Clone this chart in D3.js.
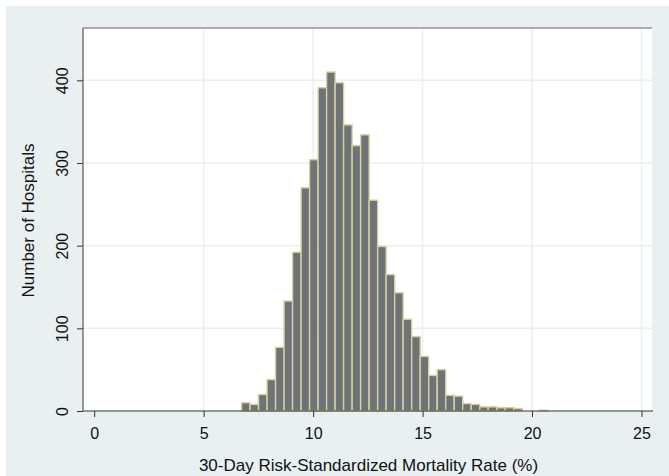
<!DOCTYPE html>
<html>
<head>
<meta charset="utf-8">
<script src="https://cdn.jsdelivr.net/npm/d3@7"></script>
<style>
  body { margin: 0; background: #ffffff; }
  svg text { font-family: "Liberation Sans", Arial, sans-serif; fill: #111; }
</style>
</head>
<body>
<div id="chart"></div>
<script>
// Histogram of 30-day risk-standardized mortality rates

// bins: first left edge and width (percent), 36 bins
const binStart = 6.73;
const binWidth = 0.3886;
const counts = [10, 8, 20, 38, 77, 133, 192, 270, 304, 391, 410, 397, 346, 321, 334, 255, 199, 165,
  143, 111, 90, 66, 43, 50, 19, 18, 9, 8, 5, 5, 4, 4, 3, 0, 0, 1];

const xTicks = [0, 5, 10, 15, 20, 25];
const yTicks = [0, 100, 200, 300, 400];

const xTitle = "30-Day Risk-Standardized Mortality Rate (%)";
const yTitle = "Number of Hospitals";

const width = 669;
const height = 476;

// plot region in pixels
const plot = { left: 83, right: 652, top: 28, bottom: 411 };

const x = d3.scaleLinear().domain([0, 25]).range([94.2, 641.5]);
const y = d3.scaleLinear().domain([0, 400]).range([411, 80.3]);

const svg = d3.select("#chart")
  .append("svg")
  .attr("width", width)
  .attr("height", height);

// outer graph background
svg.append("rect")
  .attr("x", 6)
  .attr("y", 6)
  .attr("width", width - 6)
  .attr("height", height - 6)
  .attr("fill", "#e8f0f2");

// plot region
svg.append("rect")
  .attr("x", plot.left)
  .attr("y", plot.top)
  .attr("width", plot.right - plot.left)
  .attr("height", plot.bottom - plot.top)
  .attr("fill", "#ffffff");

// grid lines (none at the axes)
svg.append("g")
  .selectAll("line")
  .data(yTicks.filter(d => d > 0))
  .enter()
  .append("line")
  .attr("x1", plot.left)
  .attr("x2", plot.right)
  .attr("y1", d => y(d))
  .attr("y2", d => y(d))
  .attr("stroke", "#e8f0f2")
  .attr("stroke-width", 1.5);

svg.append("g")
  .selectAll("line")
  .data(xTicks.filter(d => d > 0))
  .enter()
  .append("line")
  .attr("x1", d => x(d))
  .attr("x2", d => x(d))
  .attr("y1", plot.top)
  .attr("y2", plot.bottom)
  .attr("stroke", "#e8f0f2")
  .attr("stroke-width", 1.5);

// bars
svg.append("g")
  .selectAll("rect")
  .data(counts)
  .enter()
  .append("rect")
  .attr("display", d => d > 0 ? null : "none")
  .attr("x", (d, i) => x(binStart + i * binWidth))
  .attr("width", (d, i) => x(binStart + (i + 1) * binWidth) - x(binStart + i * binWidth))
  .attr("y", d => y(d))
  .attr("height", d => y(0) - y(d))
  .attr("fill", "#6d7377")
  .attr("stroke", "#d8d19e")
  .attr("stroke-width", 1.4);

// axes
const xAxis = svg.append("g")
  .attr("transform", "translate(0," + plot.bottom + ")")
  .call(d3.axisBottom(x).tickValues(xTicks).tickSize(6).tickSizeOuter(0));

xAxis.select(".domain").remove();
xAxis.selectAll(".tick line").attr("stroke", "#333");
xAxis.selectAll("text")
  .attr("y", 28)
  .attr("dy", 0)
  .style("font-size", "16px");

const yAxis = svg.append("g")
  .attr("transform", "translate(" + plot.left + ",0)")
  .call(d3.axisLeft(y).tickValues(yTicks).tickSize(6).tickSizeOuter(0));

yAxis.select(".domain").remove();
yAxis.selectAll(".tick line").attr("stroke", "#333");
yAxis.selectAll("text")
  .attr("transform", "rotate(-90)")
  .attr("x", 0)
  .attr("y", -15)
  .attr("dy", 0)
  .attr("text-anchor", "middle")
  .style("font-size", "16px");

// axis lines and top border
svg.append("line")
  .attr("x1", plot.left).attr("x2", plot.right + 1)
  .attr("y1", plot.bottom).attr("y2", plot.bottom)
  .attr("stroke", "#333").attr("stroke-width", 1.2);

svg.append("line")
  .attr("x1", plot.left).attr("x2", plot.left)
  .attr("y1", plot.top).attr("y2", plot.bottom)
  .attr("stroke", "#555").attr("stroke-width", 1.2);

svg.append("line")
  .attr("x1", plot.left).attr("x2", plot.right)
  .attr("y1", plot.top).attr("y2", plot.top)
  .attr("stroke", "#666").attr("stroke-width", 1.2);

// titles
svg.append("text")
  .attr("x", (plot.left + plot.right) / 2 + 1)
  .attr("y", 471)
  .attr("text-anchor", "middle")
  .style("font-size", "17px")
  .text(xTitle);

svg.append("text")
  .attr("transform", "translate(34," + ((plot.top + plot.bottom) / 2 + 1) + ") rotate(-90)")
  .attr("text-anchor", "middle")
  .style("font-size", "17px")
  .text(yTitle);
</script>
</body>
</html>
